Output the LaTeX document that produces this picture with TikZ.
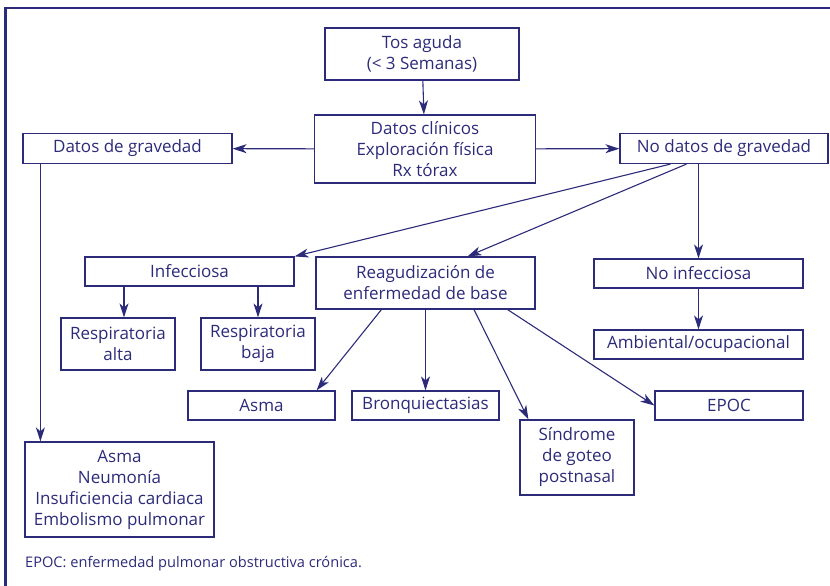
\documentclass[tikz,border=0pt]{standalone}
\usepackage{fontspec}
\setmainfont{Open Sans}
\usetikzlibrary{arrows.meta, calc}
\definecolor{navy}{RGB}{44,43,122}

\begin{document}
\begin{tikzpicture}[x=1pt, y=-1pt, >={Stealth[length=14pt, width=9pt, inset=4pt]},
  box/.style={draw=navy, line width=1.2pt, text=navy, align=center, inner sep=0pt,
    font=\fontsize{17}{21}\selectfont},
  arr/.style={->, draw=navy, line width=1.1pt}]
  \useasboundingbox (0,0) rectangle (830,586);

  % Frame (top and left only)
  \draw[navy, line width=2.5pt] (5.5,586) -- (5.5,8) -- (830,8);

  % Top level
  \node[box, minimum width=194pt, minimum height=52pt] (tos) at (422,54) {Tos aguda\\(< 3 Semanas)};
  \node[box, minimum width=221pt, minimum height=68pt] (clin) at (425,149) {Datos clínicos\\Exploración física\\Rx tórax};
  \node[box, minimum width=209pt, minimum height=30pt] (grav) at (127.5,148.5) {Datos de gravedad};
  \node[box, minimum width=208pt, minimum height=30pt] (nograv) at (724,148.5) {No datos de gravedad};

  % Second level
  \node[box, minimum width=209pt, minimum height=29pt] (infec) at (189.5,271.5) {Infecciosa};
  \node[box, minimum width=219pt, minimum height=52pt] (reag) at (425.5,283) {Reagudización de\\enfermedad de base};
  \node[box, minimum width=209pt, minimum height=29pt] (noinf) at (698.5,273.5) {No infecciosa};

  % Third level
  \node[box, minimum width=114pt, minimum height=52pt] (ralta) at (118,344) {Respiratoria\\alta};
  \node[box, minimum width=114pt, minimum height=52pt] (rbaja) at (258,344) {Respiratoria\\baja};
  \node[box, minimum width=209pt, minimum height=29pt] (amb) at (698.5,344.5) {Ambiental/ocupacional};
  \node[box, minimum width=147pt, minimum height=29pt] (asma) at (261.5,405.5) {Asma};
  \node[box, minimum width=147pt, minimum height=29pt] (bronq) at (425.5,405.5) {Bronquiectasias};
  \node[box, minimum width=148pt, minimum height=29pt] (epoc) at (729,405.5) {EPOC};
  \node[box, minimum width=114pt, minimum height=75pt] (sind) at (577,457.5) {Síndrome\\de goteo\\postnasal};
  \node[box, minimum width=189pt, minimum height=95pt] (dx) at (119.5,489.5) {Asma\\Neumonía\\Insuficiencia cardiaca\\Embolismo pulmonar};

  % Footnote
  \node[text=navy, font=\fontsize{14.6}{16}\selectfont, anchor=west, inner sep=0pt] (nota) at (25,564) {EPOC: enfermedad pulmonar obstructiva crónica.};

  % Connectors
  \draw[arr] (tos) -- (clin);
  \draw[arr] (clin) -- (grav);
  \draw[arr] (clin) -- (nograv);
  \draw[arr] ([xshift=18pt]grav.south west) -- ([xshift=18pt]grav.south west |- dx.north);
  \draw[arr] ([xshift=51pt]nograv.south west) -- (infec.north east);
  \draw[arr] ([xshift=67pt]nograv.south west) -- ([xshift=42pt]reag.north);
  \draw[arr] (nograv.south -| noinf.north) -- (noinf.north);
  \draw[arr] (infec.south -| ralta.north) ++(6,0) coordinate (ia) -- (ia |- ralta.north);
  \draw[arr] (infec.south -| rbaja.north) -- (rbaja.north);
  \draw[arr] (noinf) -- (amb);
  \draw[arr] ([xshift=66pt]reag.south west) -- ([xshift=-19pt]asma.north east);
  \draw[arr] (reag.south -| bronq.north) -- (bronq.north);
  \draw[arr] ([xshift=48.5pt]reag.south) -- ([xshift=9pt]sind.north west);
  \draw[arr] ([xshift=-28pt]reag.south east) -- (epoc.west);
\end{tikzpicture}
\end{document}
